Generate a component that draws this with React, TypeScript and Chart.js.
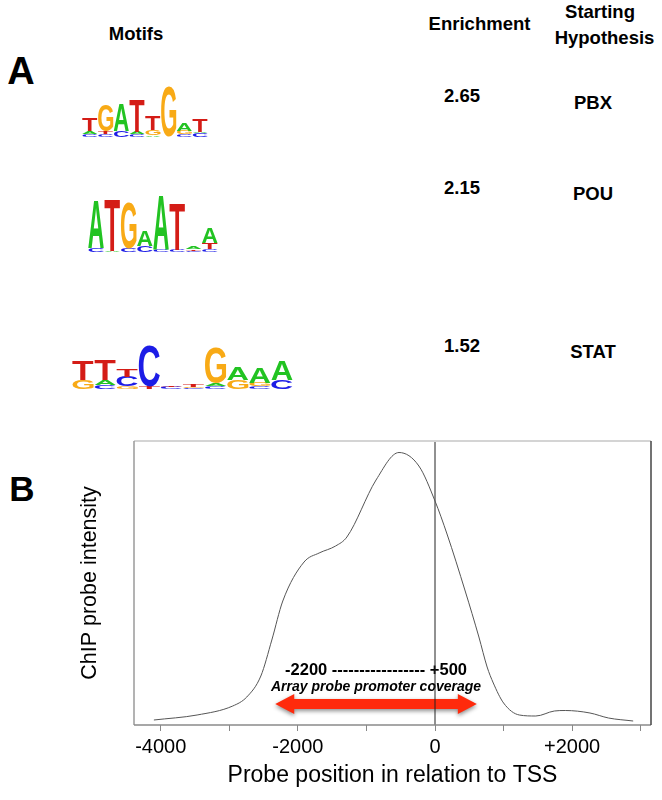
import React, { useEffect, useRef } from 'react';
import { Chart, registerables } from 'chart.js';
Chart.register(...registerables);

const FONT = '"Liberation Sans", Arial, Helvetica, sans-serif';

// ---------- Panel A data ----------
const enrichment = [2.65, 2.15, 1.52];
const hypotheses = ['PBX', 'POU', 'STAT'];

const motif1Letters = [['C', 'A', 'T'], ['C', 'T', 'G'], ['C', 'A'], ['C', 'A', 'T'], ['A', 'G', 'T'], ['G'], ['C', 'G', 'A'], ['C', 'A', 'T']];
const motif1Bits = [[0.12, 0.1, 0.48], [0.12, 0.1, 1.0], [0.25, 1.04], [0.1, 0.1, 1.23], [0.06, 0.2, 0.54], [1.92], [0.1, 0.15, 0.31], [0.15, 0.05, 0.5]];

const motif2Letters = [['C', 'A'], ['A', 'T'], ['C', 'G'], ['C', 'A'], ['C', 'A'], ['C', 'T'], ['C', 'T', 'A'], ['C', 'T', 'A']];
const motif2Bits = [[0.12, 1.6], [0.05, 1.72], [0.12, 1.53], [0.2, 0.53], [0.07, 1.83], [0.07, 1.57], [0.05, 0.06, 0.08], [0.1, 0.2, 0.5]];

const motif3Letters = [['G', 'T'], ['C', 'A', 'T'], ['G', 'C', 'T'], ['T', 'C'], ['C', 'T'], ['C', 'G', 'T'], ['C', 'A', 'G'], ['G', 'A'], ['C', 'G', 'A'], ['C', 'A']];
const motif3Bits = [[0.35, 0.75], [0.15, 0.2, 0.8], [0.1, 0.4, 0.3], [0.1, 1.64], [0.1, 0.06], [0.05, 0.05, 0.1], [0.12, 0.1, 1.4], [0.35, 0.5], [0.1, 0.15, 0.6], [0.35, 0.75]];

const BASE_COLORS: Record<string, string> = { A: '#22c322', C: '#1c1ce6', G: '#f8aa16', T: '#d41c16' };

// ---------- Panel B data ----------
const positions = [-4100, -3470, -2950, -2745, -2540, -2380, -2220, -1910, -1690, -1450, -1285, -860, -525, -235, 0, 175, 440, 640, 760, 850, 1000, 1230, 1470, 1740, 1900, 2260, 2530, 2890];
const intensity = [5, 10, 19, 28, 49, 85, 124, 163, 172, 179, 188, 245, 272.5, 259, 224, 191, 134, 88, 58, 42, 22, 10, 9, 14, 14.5, 12, 7, 4];
const xTickValues = [-4000, -3000, -2000, -1000, 0, 1000, 2000, 3000];
const xTickLabels = ['-4000', '', '-2000', '', '0', '', '+2000', ''];
const X_MIN = -4390;
const X_MAX = 3150;
const Y_MAX = 284;
const coverageRange = [-2330, 610];
const coverageArrowY = 21;
const coverageText = '-2200 ----------------- +500';
const coverageCaption = 'Array probe promoter coverage';
const coverageTextY = 55;
const coverageCaptionY = 38;

function drawLetter(ctx: CanvasRenderingContext2D, ch: string, x: number, yTop: number, w: number, h: number, color: string) {
  if (h < 0.4 || w <= 0) return;
  ctx.save();
  ctx.font = `bold 100px ${FONT}`;
  const m = ctx.measureText(ch);
  const asc = m.actualBoundingBoxAscent;
  const desc = m.actualBoundingBoxDescent;
  const l = m.actualBoundingBoxLeft;
  const r = m.actualBoundingBoxRight;
  const gw = l + r;
  const gh = asc + desc;
  ctx.translate(x, yTop);
  ctx.scale(w / gw, h / gh);
  ctx.fillStyle = color;
  ctx.textAlign = 'left';
  ctx.textBaseline = 'alphabetic';
  ctx.fillText(ch, l, asc);
  ctx.restore();
}

function MotifLogo({ letters, bits, left, top, width, height }: { letters: string[][]; bits: number[][]; left: number; top: number; width: number; height: number }) {
  const ref = useRef<HTMLCanvasElement>(null);
  useEffect(() => {
    const canvas = ref.current!;
    const logoPlugin = {
      id: 'logo',
      afterDatasetsDraw(chart: any) {
        const ctx = chart.ctx as CanvasRenderingContext2D;
        const xs = chart.scales.x;
        const ys = chart.scales.y;
        const colW = (xs.right - xs.left) / letters.length;
        letters.forEach((col, i) => {
          const cx = xs.getPixelForValue(i);
          let cum = 0;
          col.forEach((ch, j) => {
            const yBottom = ys.getPixelForValue(cum);
            cum += bits[i][j];
            const yTop = ys.getPixelForValue(cum);
            const w = colW * 0.96;
            drawLetter(ctx, ch, cx - w / 2, yTop, w, yBottom - yTop, BASE_COLORS[ch]);
          });
        });
      },
    };
    const chart = new Chart(canvas, {
      type: 'bar',
      data: {
        labels: letters.map((c) => c[c.length - 1]),
        datasets: [{ data: bits.map((b) => b.reduce((a, v) => a + v, 0)), backgroundColor: 'rgba(0,0,0,0)', borderWidth: 0 }],
      },
      options: {
        animation: false,
        responsive: false,
        devicePixelRatio: 1,
        layout: { padding: 0 },
        plugins: { legend: { display: false }, tooltip: { enabled: false } },
        scales: {
          x: { display: false },
          y: { display: false, min: 0, max: 2 },
        },
      },
      plugins: [logoPlugin],
    });
    return () => chart.destroy();
  }, []);
  return <canvas ref={ref} width={width} height={height} style={{ position: 'absolute', left, top, width, height }} />;
}

function ProfileChart() {
  const ref = useRef<HTMLCanvasElement>(null);
  useEffect(() => {
    const canvas = ref.current!;
    const decor = {
      id: 'decor',
      beforeDatasetsDraw(chart: any) {
        const ctx = chart.ctx as CanvasRenderingContext2D;
        const xs = chart.scales.x;
        const ys = chart.scales.y;
        const x1 = xs.getPixelForValue(coverageRange[0]);
        const x2 = xs.getPixelForValue(coverageRange[1]);
        const y = ys.getPixelForValue(coverageArrowY);
        const hl = 19, hh = 10, sh = 5;
        ctx.save();
        ctx.shadowColor = 'rgba(0,0,0,0.45)';
        ctx.shadowBlur = 4;
        ctx.shadowOffsetY = 2;
        ctx.fillStyle = '#ff2a0c';
        ctx.beginPath();
        ctx.moveTo(x1, y);
        ctx.lineTo(x1 + hl, y - hh);
        ctx.lineTo(x1 + hl, y - sh);
        ctx.lineTo(x2 - hl, y - sh);
        ctx.lineTo(x2 - hl, y - hh);
        ctx.lineTo(x2, y);
        ctx.lineTo(x2 - hl, y + hh);
        ctx.lineTo(x2 - hl, y + sh);
        ctx.lineTo(x1 + hl, y + sh);
        ctx.lineTo(x1 + hl, y + hh);
        ctx.closePath();
        ctx.fill();
        ctx.restore();

        const cx = (x1 + x2) / 2;
        ctx.save();
        ctx.fillStyle = '#000';
        ctx.textAlign = 'center';
        ctx.textBaseline = 'middle';
        ctx.font = `bold 16.5px ${FONT}`;
        ctx.fillText(coverageText, cx, ys.getPixelForValue(coverageTextY));
        ctx.font = `italic bold 14px ${FONT}`;
        ctx.fillText(coverageCaption, cx, ys.getPixelForValue(coverageCaptionY));
        ctx.restore();
      },
      afterDraw(chart: any) {
        const ctx = chart.ctx as CanvasRenderingContext2D;
        const a = chart.chartArea;
        ctx.save();
        ctx.lineWidth = 2;
        ctx.strokeStyle = '#d4d4d4';
        ctx.beginPath();
        ctx.moveTo(a.left, a.top);
        ctx.lineTo(a.right, a.top);
        ctx.stroke();
        ctx.lineWidth = 1.5;
        ctx.strokeStyle = '#9a9a9a';
        ctx.beginPath();
        ctx.moveTo(a.left, a.top);
        ctx.lineTo(a.left, a.bottom);
        ctx.stroke();
        ctx.strokeStyle = '#8a8a8a';
        ctx.beginPath();
        ctx.moveTo(a.left, a.bottom);
        ctx.lineTo(a.right, a.bottom);
        ctx.stroke();
        ctx.strokeStyle = '#444';
        ctx.beginPath();
        ctx.moveTo(a.right, a.top);
        ctx.lineTo(a.right, a.bottom);
        ctx.stroke();
        ctx.restore();
      },
    };
    const chart = new Chart(canvas, {
      type: 'line',
      data: {
        datasets: [
          {
            data: positions.map((x, i) => ({ x, y: intensity[i] })),
            borderColor: '#555',
            borderWidth: 1,
            pointRadius: 0,
            cubicInterpolationMode: 'monotone',
            fill: false,
          },
          {
            data: [{ x: 0, y: 0 }, { x: 0, y: Y_MAX }],
            borderColor: '#222',
            borderWidth: 1,
            pointRadius: 0,
            fill: false,
          },
        ],
      },
      options: {
        animation: false,
        responsive: false,
        devicePixelRatio: 1,
        layout: { padding: { top: 11, right: 11, left: 0, bottom: 0 } },
        plugins: { legend: { display: false }, tooltip: { enabled: false } },
        scales: {
          x: {
            type: 'linear',
            min: X_MIN,
            max: X_MAX,
            afterBuildTicks: (s: any) => {
              s.ticks = xTickValues.map((v) => ({ value: v }));
            },
            afterFit: (s: any) => {
              s.height = 75;
            },
            grid: { display: true, drawOnChartArea: false, drawTicks: true, tickLength: 6, color: '#888', lineWidth: 1 },
            border: { display: false },
            ticks: {
              autoSkip: false,
              maxRotation: 0,
              minRotation: 0,
              padding: 4,
              color: '#000',
              font: { family: FONT, size: 20 },
              callback: (_v: any, i: number) => xTickLabels[i],
            },
            title: {
              display: true,
              text: 'Probe position in relation to TSS',
              color: '#000',
              font: { family: FONT, size: 23 },
              padding: { top: 0, bottom: 11 },
            },
          },
          y: {
            type: 'linear',
            min: 0,
            max: Y_MAX,
            afterFit: (s: any) => {
              s.width = 134;
            },
            grid: { display: false },
            border: { display: false },
            ticks: { display: false },
            title: {
              display: true,
              text: 'ChIP probe intensity',
              color: '#000',
              font: { family: FONT, size: 21.5 },
              padding: { top: 77, bottom: 0 },
            },
          },
        },
      },
      plugins: [decor],
    });
    return () => chart.destroy();
  }, []);
  return <canvas ref={ref} width={662} height={370} style={{ position: 'absolute', left: 0, top: 430, width: 662, height: 370 }} />;
}

function Label({ text, x, y, size = 18.5, bold = true }: { text: string; x: number; y: number; size?: number; bold?: boolean }) {
  return (
    <div
      style={{
        position: 'absolute',
        left: x,
        top: y,
        transform: 'translate(-50%, -50%)',
        fontFamily: FONT,
        fontWeight: bold ? 'bold' : 'normal',
        fontSize: size,
        lineHeight: 1,
        whiteSpace: 'nowrap',
        color: '#000',
      }}
    >
      {text}
    </div>
  );
}

const valueRowY = [96, 188, 346];
const hypRowY = [102.5, 194, 352];

export default function App() {
  return (
    <div style={{ position: 'absolute', left: 0, top: 0, width: 662, height: 800, background: '#fff', overflow: 'hidden' }}>
      <Label text="Motifs" x={136} y={34} />
      <Label text="Enrichment" x={479.5} y={24} />
      <Label text="Starting" x={600} y={12} />
      <Label text="Hypothesis" x={604.5} y={38} />
      <Label text="A" x={21} y={71} size={38} />
      <Label text="B" x={22} y={488} size={35} />
      {enrichment.map((v, i) => (
        <Label key={'e' + i} text={v.toFixed(2)} x={462} y={valueRowY[i]} />
      ))}
      {hypotheses.map((h, i) => (
        <Label key={'h' + i} text={h} x={593} y={hypRowY[i]} />
      ))}
      <MotifLogo letters={motif1Letters} bits={motif1Bits} left={82} top={85} width={126} height={52} />
      <MotifLogo letters={motif2Letters} bits={motif2Bits} left={88} top={192} width={130} height={60} />
      <MotifLogo letters={motif3Letters} bits={motif3Bits} left={72} top={339} width={221} height={50} />
      <ProfileChart />
    </div>
  );
}
